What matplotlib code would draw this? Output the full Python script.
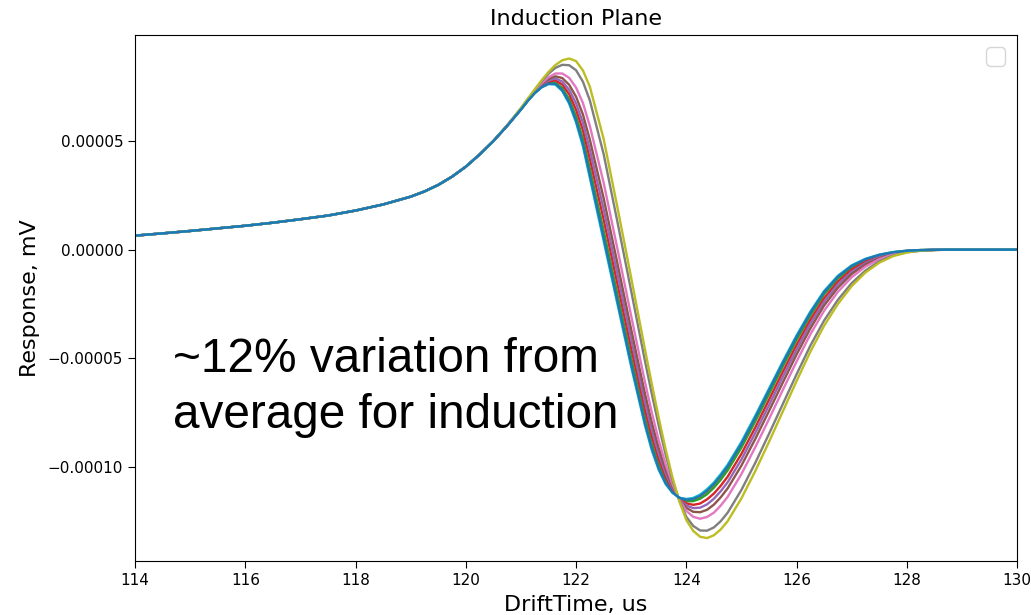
import matplotlib
matplotlib.use("Agg")
import numpy as np
import matplotlib.pyplot as plt
from matplotlib.ticker import FuncFormatter

# drift time grid (us): shared rising edge, region where the curves differ, shared flat tail
t_left = [114.0, 114.5, 115.0, 115.5, 116.0, 116.5, 117.0, 117.5, 118.0, 118.5,
          119.0, 119.25, 119.5, 119.75, 120.0, 120.25]
t_mid = [120.5, 120.75, 121.0, 121.125, 121.25, 121.375, 121.5, 121.625, 121.75, 121.875,
         122.0, 122.125, 122.25, 122.5, 122.75, 123.0, 123.25, 123.375, 123.5, 123.625,
         123.75, 123.875, 124.0, 124.125, 124.25, 124.375, 124.5, 124.625, 124.75, 125.0,
         125.25, 125.5, 125.75, 126.0, 126.25, 126.5, 126.75, 127.0, 127.25, 127.5,
         127.75, 128.0, 128.25, 128.5]
t_right = [128.75, 129.0, 129.5, 130.0]

# response in units of 1e-5 mV
resp_left = [0.645, 0.75, 0.86, 0.98, 1.10, 1.24, 1.40, 1.57, 1.80, 2.08,
             2.44, 2.68, 2.98, 3.36, 3.82, 4.38]
resp_right = [0.0, 0.0, 0.0, 0.0]

resp_c0 = [5.00, 5.70, 6.45, 6.85, 7.21, 7.48, 7.64, 7.63, 7.34, 6.78,
           5.94, 4.86, 3.43, 0.54, -2.37, -5.28, -8.00, -9.16, -10.08, -10.75,
           -11.18, -11.43, -11.51, -11.48, -11.34, -11.10, -10.79, -10.41, -9.98, -8.93,
           -7.73, -6.47, -5.22, -4.01, -2.91, -1.95, -1.24, -0.75, -0.44, -0.24,
           -0.12, -0.05, -0.02, -0.01]
resp_c1 = [5.00, 5.70, 6.45, 6.86, 7.21, 7.49, 7.65, 7.65, 7.39, 6.84,
           6.02, 4.96, 3.55, 0.68, -2.23, -5.15, -7.89, -9.07, -10.01, -10.70,
           -11.16, -11.43, -11.54, -11.52, -11.40, -11.17, -10.87, -10.48, -10.06, -9.01,
           -7.80, -6.55, -5.29, -4.08, -2.96, -2.00, -1.28, -0.78, -0.46, -0.25,
           -0.12, -0.05, -0.02, -0.01]
resp_c2 = [5.00, 5.70, 6.46, 6.86, 7.22, 7.50, 7.68, 7.69, 7.44, 6.93,
           6.13, 5.10, 3.72, 0.87, -2.06, -4.99, -7.75, -8.95, -9.91, -10.64,
           -11.13, -11.44, -11.58, -11.58, -11.47, -11.26, -10.96, -10.59, -10.16, -9.11,
           -7.91, -6.65, -5.38, -4.16, -3.04, -2.06, -1.33, -0.82, -0.48, -0.27,
           -0.13, -0.06, -0.02, -0.01]
resp_c3 = [5.00, 5.70, 6.46, 6.87, 7.24, 7.54, 7.74, 7.79, 7.60, 7.16,
           6.44, 5.49, 4.18, 1.39, -1.57, -4.54, -7.37, -8.61, -9.65, -10.46,
           -11.05, -11.46, -11.68, -11.75, -11.69, -11.50, -11.23, -10.87, -10.45, -9.40,
           -8.19, -6.91, -5.63, -4.39, -3.24, -2.24, -1.47, -0.92, -0.55, -0.31,
           -0.15, -0.07, -0.03, -0.01]
resp_c4 = [5.00, 5.71, 6.47, 6.88, 7.26, 7.57, 7.79, 7.88, 7.74, 7.36,
           6.73, 5.84, 4.60, 1.86, -1.12, -4.13, -7.02, -8.30, -9.41, -10.30,
           -10.98, -11.48, -11.78, -11.90, -11.88, -11.73, -11.47, -11.12, -10.71, -9.66,
           -8.44, -7.16, -5.86, -4.60, -3.42, -2.40, -1.60, -1.02, -0.62, -0.34,
           -0.17, -0.07, -0.03, -0.01]
resp_c5 = [5.00, 5.71, 6.48, 6.89, 7.28, 7.61, 7.86, 7.98, 7.90, 7.59,
           7.04, 6.22, 5.06, 2.37, -0.63, -3.68, -6.63, -7.97, -9.14, -10.13,
           -10.91, -11.50, -11.89, -12.07, -12.09, -11.98, -11.74, -11.40, -10.99, -9.94,
           -8.72, -7.43, -6.12, -4.83, -3.63, -2.57, -1.75, -1.12, -0.68, -0.39,
           -0.19, -0.08, -0.03, -0.01]
resp_c6 = [5.00, 5.71, 6.49, 6.91, 7.30, 7.66, 7.94, 8.11, 8.11, 7.91,
           7.46, 6.75, 5.69, 3.08, 0.04, -3.06, -6.10, -7.51, -8.78, -9.89,
           -10.80, -11.52, -12.03, -12.30, -12.39, -12.31, -12.11, -11.78, -11.38, -10.33,
           -9.10, -7.80, -6.46, -5.15, -3.90, -2.81, -1.94, -1.27, -0.78, -0.44,
           -0.22, -0.10, -0.04, -0.01]
resp_c7 = [5.00, 5.72, 6.51, 6.94, 7.35, 7.75, 8.10, 8.37, 8.51, 8.49,
           8.26, 7.73, 6.87, 4.40, 1.28, -1.91, -5.13, -6.66, -8.11, -9.44,
           -10.61, -11.57, -12.30, -12.72, -12.93, -12.94, -12.79, -12.50, -12.11, -11.06,
           -9.82, -8.48, -7.11, -5.74, -4.42, -3.26, -2.31, -1.54, -0.96, -0.54,
           -0.27, -0.12, -0.05, -0.02]
resp_c8 = [5.00, 5.72, 6.52, 6.95, 7.38, 7.80, 8.18, 8.50, 8.72, 8.80,
           8.68, 8.25, 7.50, 5.10, 1.95, -1.30, -4.60, -6.20, -7.75, -9.20,
           -10.50, -11.60, -12.45, -12.95, -13.22, -13.28, -13.15, -12.88, -12.50, -11.45,
           -10.20, -8.85, -7.45, -6.05, -4.70, -3.50, -2.50, -1.68, -1.05, -0.60,
           -0.30, -0.13, -0.05, -0.02]
resp_c9 = [5.00, 5.70, 6.45, 6.85, 7.20, 7.47, 7.62, 7.60, 7.30, 6.72,
           5.85, 4.75, 3.30, 0.40, -2.50, -5.40, -8.10, -9.25, -10.15, -10.80,
           -11.20, -11.42, -11.48, -11.43, -11.28, -11.03, -10.72, -10.33, -9.90, -8.85,
           -7.65, -6.40, -5.15, -3.95, -2.85, -1.90, -1.20, -0.72, -0.42, -0.23,
           -0.11, -0.05, -0.02, -0.005]

channels = [resp_c0, resp_c1, resp_c2, resp_c3, resp_c4,
            resp_c5, resp_c6, resp_c7, resp_c8, resp_c9]
# blue channel ends up drawn on top of the others
draw_order = [1, 2, 3, 4, 5, 6, 7, 8, 9, 0]

fig = plt.figure(figsize=(10.31, 6.15), dpi=100)
ax = fig.add_axes([0.131, 0.088, 0.8555, 0.855])

t_all = np.array(t_left + t_mid + t_right)
for i in draw_order:
    y = np.array(resp_left + channels[i] + resp_right) * 1e-5
    ax.plot(t_all, y, color=f"C{i}", lw=1.7)

ax.set_xlim(114, 130)
ax.set_ylim(-0.0001433, 0.0000988)
ax.set_xticks([114, 116, 118, 120, 122, 124, 126, 128, 130])
ax.set_yticks([-0.0001, -0.00005, 0.0, 0.00005])
ax.yaxis.set_major_formatter(FuncFormatter(lambda v, p: f"{v:.5f}".replace("-", "\u2212")))
ax.tick_params(labelsize=11, length=5)

ax.set_xlabel("DriftTime, us", fontsize=16, labelpad=5)
ax.set_ylabel("Response, mV", fontsize=16, labelpad=6)
ax.set_title("Induction Plane", fontsize=16, pad=7)
ax.legend(loc="upper right", fontsize=17)

fig.text(173 / 1031, 1 - 337 / 615, "~12% variation from\naverage for induction",
         fontsize=34.4, family="Liberation Sans", va="top", ha="left", linespacing=1.3)

fig.savefig("out.png", dpi=100)
